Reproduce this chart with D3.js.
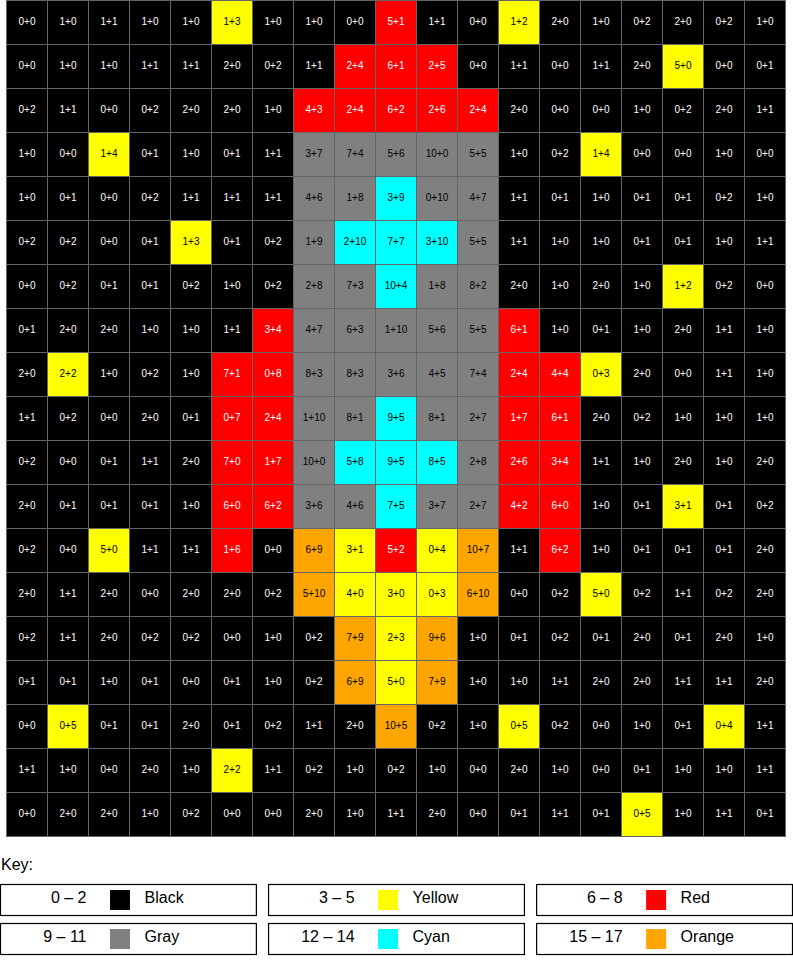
<!DOCTYPE html>
<html>
<head>
<meta charset="utf-8">
<script src="https://cdn.jsdelivr.net/npm/d3@7"></script>
<style>
  html, body { margin: 0; padding: 0; background: #fff; }
  svg { display: block; font-family: "Liberation Sans", Arial, sans-serif; }
</style>
</head>
<body>
<svg id="chart" width="793" height="962"></svg>
<script>
// Each row: 19 cells "a+b"
const gridRows = [
  "0+0 1+0 1+1 1+0 1+0 1+3 1+0 1+0 0+0 5+1 1+1 0+0 1+2 2+0 1+0 0+2 2+0 0+2 1+0",
  "0+0 1+0 1+0 1+1 1+1 2+0 0+2 1+1 2+4 6+1 2+5 0+0 1+1 0+0 1+1 2+0 5+0 0+0 0+1",
  "0+2 1+1 0+0 0+2 2+0 2+0 1+0 4+3 2+4 6+2 2+6 2+4 2+0 0+0 0+0 1+0 0+2 2+0 1+1",
  "1+0 0+0 1+4 0+1 1+0 0+1 1+1 3+7 7+4 5+6 10+0 5+5 1+0 0+2 1+4 0+0 0+0 1+0 0+0",
  "1+0 0+1 0+0 0+2 1+1 1+1 1+1 4+6 1+8 3+9 0+10 4+7 1+1 0+1 1+0 0+1 0+1 0+2 1+0",
  "0+2 0+2 0+0 0+1 1+3 0+1 0+2 1+9 2+10 7+7 3+10 5+5 1+1 1+0 1+0 0+1 0+1 1+0 1+1",
  "0+0 0+2 0+1 0+1 0+2 1+0 0+2 2+8 7+3 10+4 1+8 8+2 2+0 1+0 2+0 1+0 1+2 0+2 0+0",
  "0+1 2+0 2+0 1+0 1+0 1+1 3+4 4+7 6+3 1+10 5+6 5+5 6+1 1+0 0+1 1+0 2+0 1+1 1+0",
  "2+0 2+2 1+0 0+2 1+0 7+1 0+8 8+3 8+3 3+6 4+5 7+4 2+4 4+4 0+3 2+0 0+0 1+1 1+0",
  "1+1 0+2 0+0 2+0 0+1 0+7 2+4 1+10 8+1 9+5 8+1 2+7 1+7 6+1 2+0 0+2 1+0 1+0 1+0",
  "0+2 0+0 0+1 1+1 2+0 7+0 1+7 10+0 5+8 9+5 8+5 2+8 2+6 3+4 1+1 1+0 2+0 1+0 2+0",
  "2+0 0+1 0+1 0+1 1+0 6+0 6+2 3+6 4+6 7+5 3+7 2+7 4+2 6+0 1+0 0+1 3+1 0+1 0+2",
  "0+2 0+0 5+0 1+1 1+1 1+6 0+0 6+9 3+1 5+2 0+4 10+7 1+1 6+2 1+0 0+1 0+1 0+1 2+0",
  "2+0 1+1 2+0 0+0 2+0 2+0 0+2 5+10 4+0 3+0 0+3 6+10 0+0 0+2 5+0 0+2 1+1 0+2 2+0",
  "0+2 1+1 2+0 0+2 0+2 0+0 1+0 0+2 7+9 2+3 9+6 1+0 0+1 0+2 0+1 2+0 0+1 2+0 1+0",
  "0+1 0+1 1+0 0+1 0+0 0+1 1+0 0+2 6+9 5+0 7+9 1+0 1+0 1+1 2+0 2+0 1+1 1+1 2+0",
  "0+0 0+5 0+1 0+1 2+0 0+1 0+2 1+1 2+0 10+5 0+2 1+0 0+5 0+2 0+0 1+0 0+1 0+4 1+1",
  "1+1 1+0 0+0 2+0 1+0 2+2 1+1 0+2 1+0 0+2 1+0 0+0 2+0 1+0 0+0 0+1 1+0 1+0 1+1",
  "0+0 2+0 2+0 1+0 0+2 0+0 0+0 2+0 1+0 1+1 2+0 0+0 0+1 1+1 0+1 0+5 1+0 1+1 0+1"
];

const legendRanges = ["0 – 2", "3 – 5", "6 – 8", "9 – 11", "12 – 14", "15 – 17"];
const legendNames  = ["Black", "Yellow", "Red", "Gray", "Cyan", "Orange"];
const legendColors = ["#000000", "#ffff00", "#ff0000", "#808080", "#00ffff", "#ffa500"];
const legendThresholds = [3, 6, 9, 12, 15];

const cells = [];
gridRows.forEach((row, r) => {
  row.split(" ").forEach((lab, c) => {
    const [a, b] = lab.split("+").map(Number);
    cells.push({ r, c, label: lab, sum: a + b });
  });
});

const nRows = gridRows.length;
const nCols = gridRows[0].split(" ").length;

const svg = d3.select("#chart");

const x = d3.scaleBand().domain(d3.range(nCols)).range([6, 785]).padding(0);
const y = d3.scaleBand().domain(d3.range(nRows)).range([0, 836]).padding(0);
const color = d3.scaleThreshold().domain(legendThresholds).range(legendColors);
const textColor = d3.scaleThreshold().domain(legendThresholds)
  .range(["#ffffff", "#000000", "#ffffff", "#000000", "#000000", "#000000"]);

const g = svg.append("g");

g.selectAll("rect.cell")
  .data(cells)
  .join("rect")
  .attr("class", "cell")
  .attr("x", d => x(d.c) + 0.5)
  .attr("y", d => y(d.r) + 0.5)
  .attr("width", x.bandwidth())
  .attr("height", y.bandwidth())
  .attr("fill", d => color(d.sum))
  .attr("stroke", "#666666")
  .attr("stroke-width", 1);

g.selectAll("text.cell")
  .data(cells)
  .join("text")
  .attr("class", "cell")
  .attr("x", d => x(d.c) + x.bandwidth() / 2 + 0.5)
  .attr("y", d => y(d.r) + y.bandwidth() / 2 + 2.5)
  .attr("text-anchor", "middle")
  .attr("font-size", "10px")
  .attr("fill", d => textColor(d.sum))
  .text(d => d.label);

// Legend
svg.append("text")
  .attr("x", 1)
  .attr("y", 870)
  .attr("font-size", "16px")
  .attr("fill", "#000")
  .text("Key:");

const legendData = legendRanges.map((rng, i) => ({ rng, name: legendNames[i], color: legendColors[i], i }));
const lx = d3.scaleBand().domain([0, 1, 2]).range([0.5, 792.5]).paddingInner(12 / 264);
const ly = d3.scaleBand().domain([0, 1]).range([884.5, 954.5]).paddingInner(8 / 39);

const item = svg.selectAll("g.legend")
  .data(legendData)
  .join("g")
  .attr("class", "legend")
  .attr("transform", d => `translate(${lx(d.i % 3)},${ly(Math.floor(d.i / 3))})`);

item.append("rect")
  .attr("width", lx.bandwidth())
  .attr("height", ly.bandwidth())
  .attr("fill", "#fff")
  .attr("stroke", "#000")
  .attr("stroke-width", 1.2);

item.append("text")
  .attr("x", 86)
  .attr("y", 18)
  .attr("text-anchor", "end")
  .attr("font-size", "16px")
  .text(d => d.rng);

item.append("rect")
  .attr("x", 109.5)
  .attr("y", 5.5)
  .attr("width", 20)
  .attr("height", 20)
  .attr("fill", d => d.color);

item.append("text")
  .attr("x", 144)
  .attr("y", 18)
  .attr("font-size", "16px")
  .text(d => d.name);
</script>
</body>
</html>
